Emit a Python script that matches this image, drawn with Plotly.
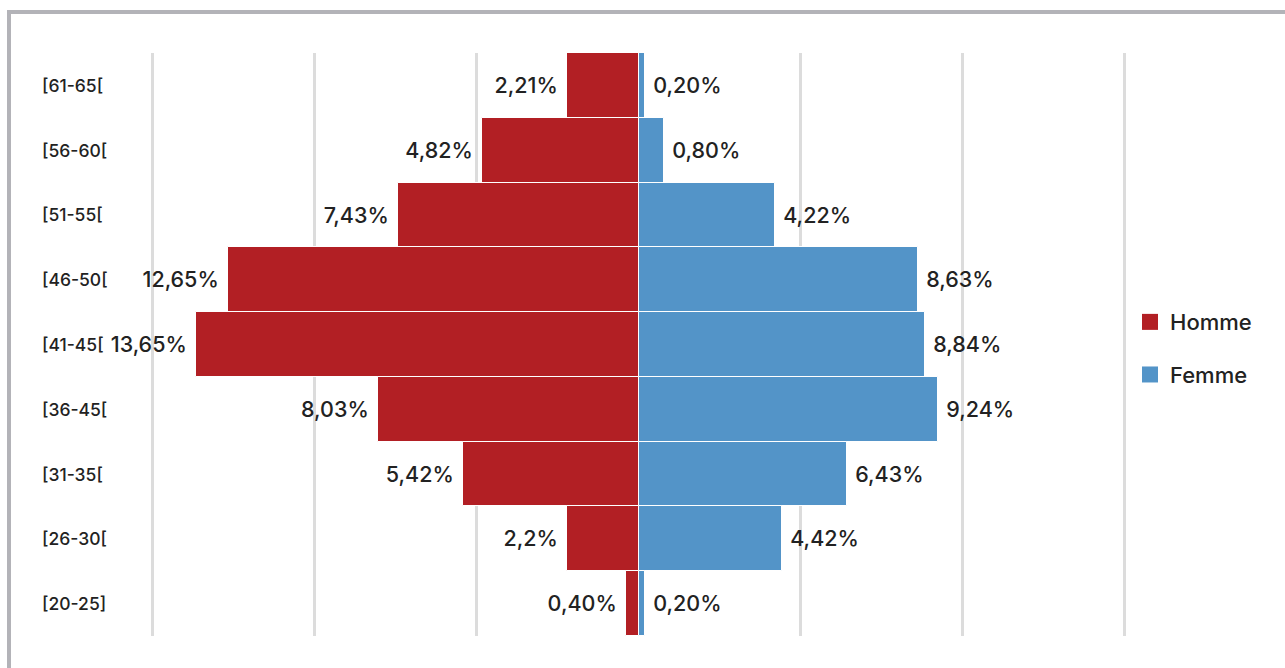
import plotly.graph_objects as go

categories = ["[61-65[", "[56-60[", "[51-55[", "[46-50[", "[41-45[", "[36-45[", "[31-35[", "[26-30[", "[20-25]"]
homme = [2.21, 4.82, 7.43, 12.65, 13.65, 8.03, 5.42, 2.2, 0.40]
femme = [0.20, 0.80, 4.22, 8.63, 8.84, 9.24, 6.43, 4.42, 0.20]
homme_labels = ["2,21%", "4,82%", "7,43%", "12,65%", "13,65%", "8,03%", "5,42%", "2,2%", "0,40%"]
femme_labels = ["0,20%", "0,80%", "4,22%", "8,63%", "8,84%", "9,24%", "6,43%", "4,42%", "0,20%"]

RED = "#B21F24"
BLUE = "#5394C8"
FONT = "Inter"
TXT = "#222222"

W, H = 1285, 668
ML, MR, MT, MB = 149, 157, 53, 32

fig = go.Figure()
fig.add_trace(go.Bar(
    y=categories, x=[-v for v in homme], orientation="h", name="Homme",
    marker=dict(color=RED, line=dict(color="white", width=1)),
    text=[t + "\u00a0" for t in homme_labels], textposition="outside",
    textfont=dict(family=FONT, size=21.5, color=TXT, weight=500),
    showlegend=False, cliponaxis=False,
))
fig.add_trace(go.Bar(
    y=categories, x=femme, orientation="h", name="Femme",
    marker=dict(color=BLUE, line=dict(color="white", width=1)),
    text=["\u00a0" + t for t in femme_labels], textposition="outside",
    textfont=dict(family=FONT, size=21.5, color=TXT, weight=500),
    showlegend=False, cliponaxis=False,
))
# legend entries
fig.add_trace(go.Scatter(x=[None], y=[None], mode="markers", name="Homme", legendgroup="h",
                         marker=dict(symbol="square", size=16, color=RED)))
fig.add_trace(go.Scatter(x=[None], y=[None], mode="markers", name="Femme", legendgroup="f",
                         marker=dict(symbol="square", size=16, color=BLUE)))

pw = W - ML - MR
ph = H - MT - MB
annotations = []
for c in categories:
    annotations.append(dict(
        x=(40 - ML) / pw, xref="paper", xanchor="left",
        y=c, yref="y", yanchor="middle",
        text=c, showarrow=False,
        font=dict(family=FONT, size=17.5, color=TXT, weight=500),
    ))

border = "#B3B3B8"
shapes = [
    dict(type="line", xref="paper", yref="paper",
         x0=(7 - ML) / pw, x1=(W + 5 - ML) / pw,
         y0=(H - MB - 12) / ph, y1=(H - MB - 12) / ph,
         line=dict(color=border, width=4)),
    dict(type="line", xref="paper", yref="paper",
         x0=(9 - ML) / pw, x1=(9 - ML) / pw,
         y0=(H - MB - 10) / ph, y1=-MB / ph - 0.05,
         line=dict(color=border, width=4)),
]

fig.update_layout(
    width=W, height=H,
    margin=dict(l=ML, r=MR, t=MT, b=MB, pad=0),
    paper_bgcolor="white", plot_bgcolor="white",
    barmode="relative", bargap=0,
    font=dict(family=FONT, color=TXT),
    xaxis=dict(range=[-15.1, 15.1], dtick=5, tick0=0, showgrid=True, gridcolor="#DCDCDC", gridwidth=3,
               zeroline=False, showticklabels=False, showline=False, fixedrange=True),
    yaxis=dict(autorange="reversed", showticklabels=False, showgrid=False, zeroline=False,
               showline=False, fixedrange=True),
    legend=dict(x=(1130 - ML) / pw, xanchor="left", y=0.493, yanchor="middle",
                font=dict(family=FONT, size=22, color=TXT, weight=500), traceorder="grouped",
                tracegroupgap=21, bgcolor="rgba(0,0,0,0)"),
    annotations=annotations,
    shapes=shapes,
)

fig.write_html("out.html", config={"displayModeBar": False},
               post_script="document.body.style.margin='0';document.body.style.overflow='hidden';")
